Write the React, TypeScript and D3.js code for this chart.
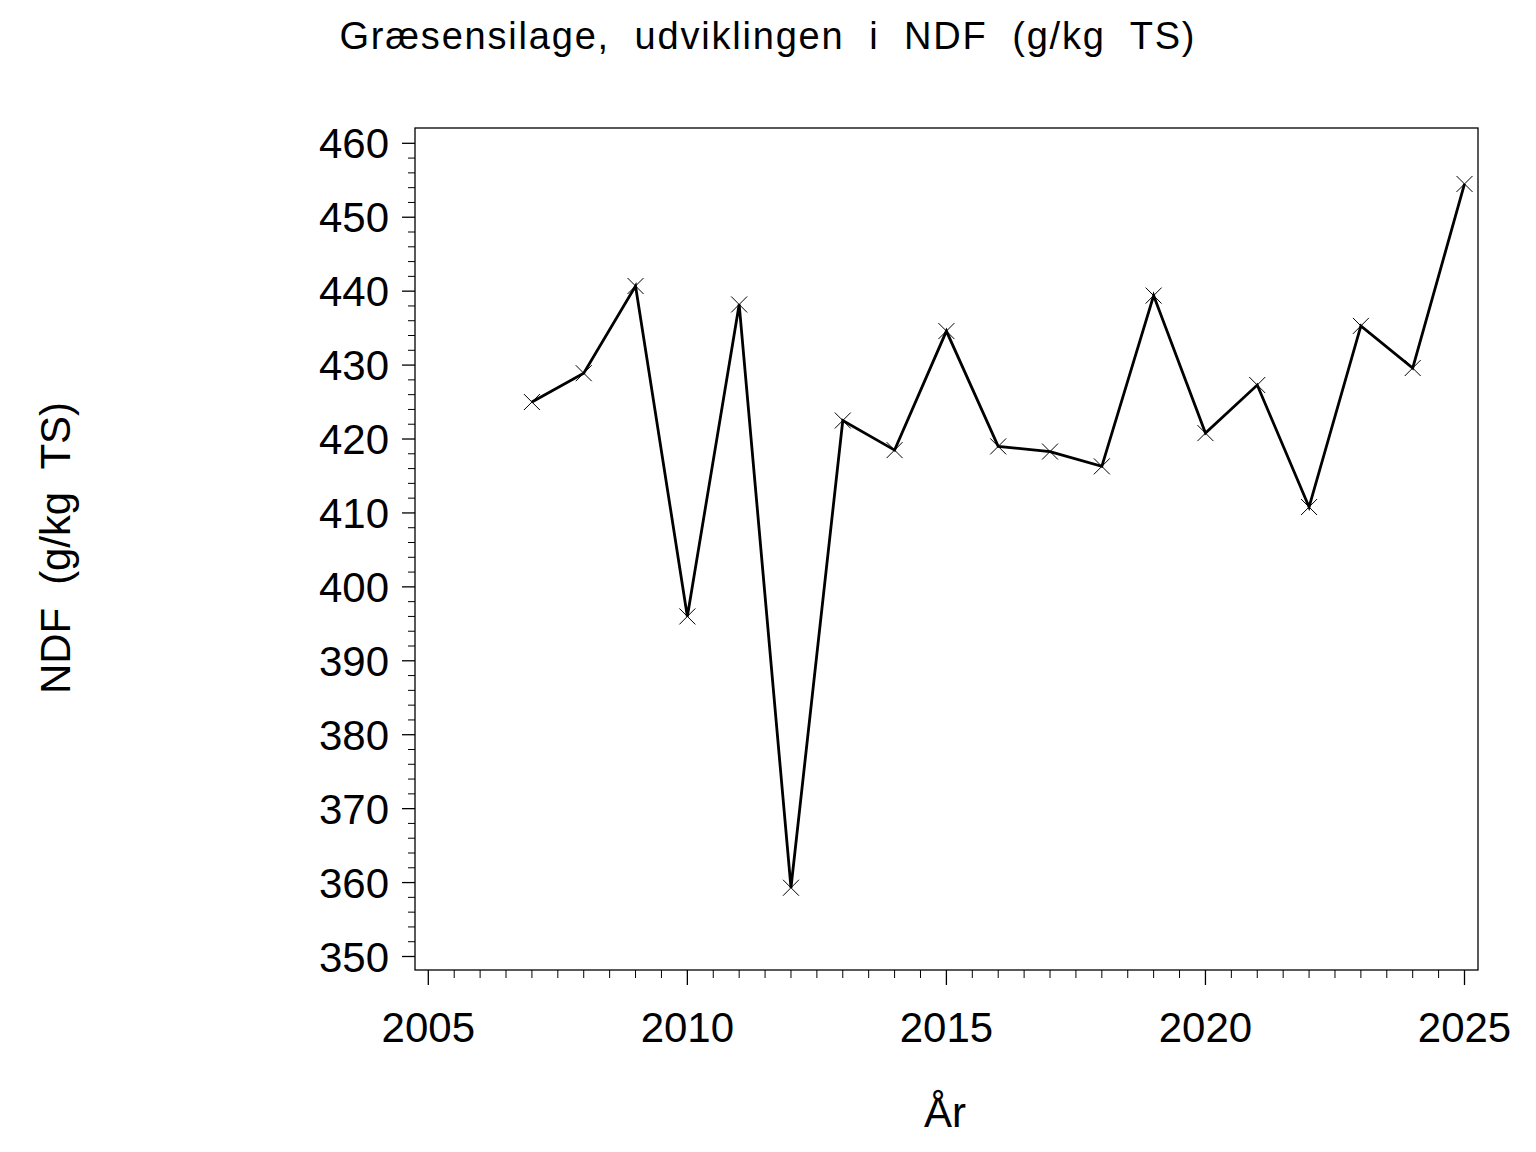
import React from "react";
import * as d3 from "d3";

const years = [2007, 2008, 2009, 2010, 2011, 2012, 2013, 2014, 2015, 2016, 2017, 2018, 2019, 2020, 2021, 2022, 2023, 2024, 2025];
const ndf = [425.0, 428.9, 440.7, 396.0, 438.2, 359.3, 422.5, 418.5, 434.6, 419.0, 418.3, 416.3, 439.4, 420.8, 427.3, 410.8, 435.3, 429.6, 454.5];
const yTicks = [350, 360, 370, 380, 390, 400, 410, 420, 430, 440, 450, 460];
const xTicks = [2005, 2010, 2015, 2020, 2025];
const title = "Græsensilage,  udviklingen  i  NDF  (g/kg  TS)";
const yLabel = "NDF  (g/kg  TS)";
const xLabel = "År";

const W = 1536, H = 1152;
const frame = { left: 415, right: 1478, top: 128, bottom: 970 };
const FONT = "'Liberation Sans', Arial, Helvetica, sans-serif";

export default function App() {
  const x = d3.scaleLinear().domain([2005, 2025]).range([428.3, 1464.5]);
  const y = d3.scaleLinear().domain([350, 460]).range([956.5, 143.3]);
  const line = d3.line<number>().x((_, i) => x(years[i])).y((d) => y(d));
  const yMinor = d3.range(350, 460.01, 2).filter((v) => v % 10 !== 0);
  const xMinor = d3.range(2005, 2025.01, 0.5).filter((v) => v % 5 !== 0);
  const m = 8;
  return (
    <svg width={W} height={H} style={{ position: "absolute", left: 0, top: 0, background: "#fff" }} fontFamily={FONT}>
      <rect x={0} y={0} width={W} height={H} fill="#fff" />
      <text x={767} y={49} textAnchor="middle" fontSize={38} xmlSpace="preserve" style={{ whiteSpace: "pre" }} textLength={855} lengthAdjust="spacing">{title}</text>
      <rect x={frame.left} y={frame.top} width={frame.right - frame.left} height={frame.bottom - frame.top} fill="none" stroke="#000" strokeWidth={1.3} />
      {yTicks.map((t) => (
        <g key={"y" + t}>
          <line x1={frame.left - 13} x2={frame.left} y1={y(t)} y2={y(t)} stroke="#000" strokeWidth={1.3} />
          <text x={389} y={y(t) + 15} textAnchor="end" fontSize={42}>{t}</text>
        </g>
      ))}
      {yMinor.map((t) => (
        <line key={"ym" + t} x1={frame.left - 7} x2={frame.left} y1={y(t)} y2={y(t)} stroke="#000" strokeWidth={1} />
      ))}
      {xTicks.map((t) => (
        <g key={"x" + t}>
          <line x1={x(t)} x2={x(t)} y1={frame.bottom} y2={frame.bottom + 15} stroke="#000" strokeWidth={1.3} />
          <text x={x(t)} y={1042} textAnchor="middle" fontSize={42}>{t}</text>
        </g>
      ))}
      {xMinor.map((t) => (
        <line key={"xm" + t} x1={x(t)} x2={x(t)} y1={frame.bottom} y2={frame.bottom + 8} stroke="#000" strokeWidth={1} />
      ))}
      <text x={945} y={1127} textAnchor="middle" fontSize={42}>{xLabel}</text>
      <text transform={`translate(70,548) rotate(-90)`} textAnchor="middle" fontSize={42} xmlSpace="preserve" style={{ whiteSpace: "pre" }} textLength={292} lengthAdjust="spacing">{yLabel}</text>
      <path d={line(ndf) || ""} fill="none" stroke="#000" strokeWidth={2.8} strokeLinejoin="miter" />
      {ndf.map((v, i) => (
        <g key={"m" + i} stroke="#000" strokeWidth={1}>
          <line x1={x(years[i]) - m} x2={x(years[i]) + m} y1={y(v) - m} y2={y(v) + m} />
          <line x1={x(years[i]) - m} x2={x(years[i]) + m} y1={y(v) + m} y2={y(v) - m} />
        </g>
      ))}
    </svg>
  );
}
